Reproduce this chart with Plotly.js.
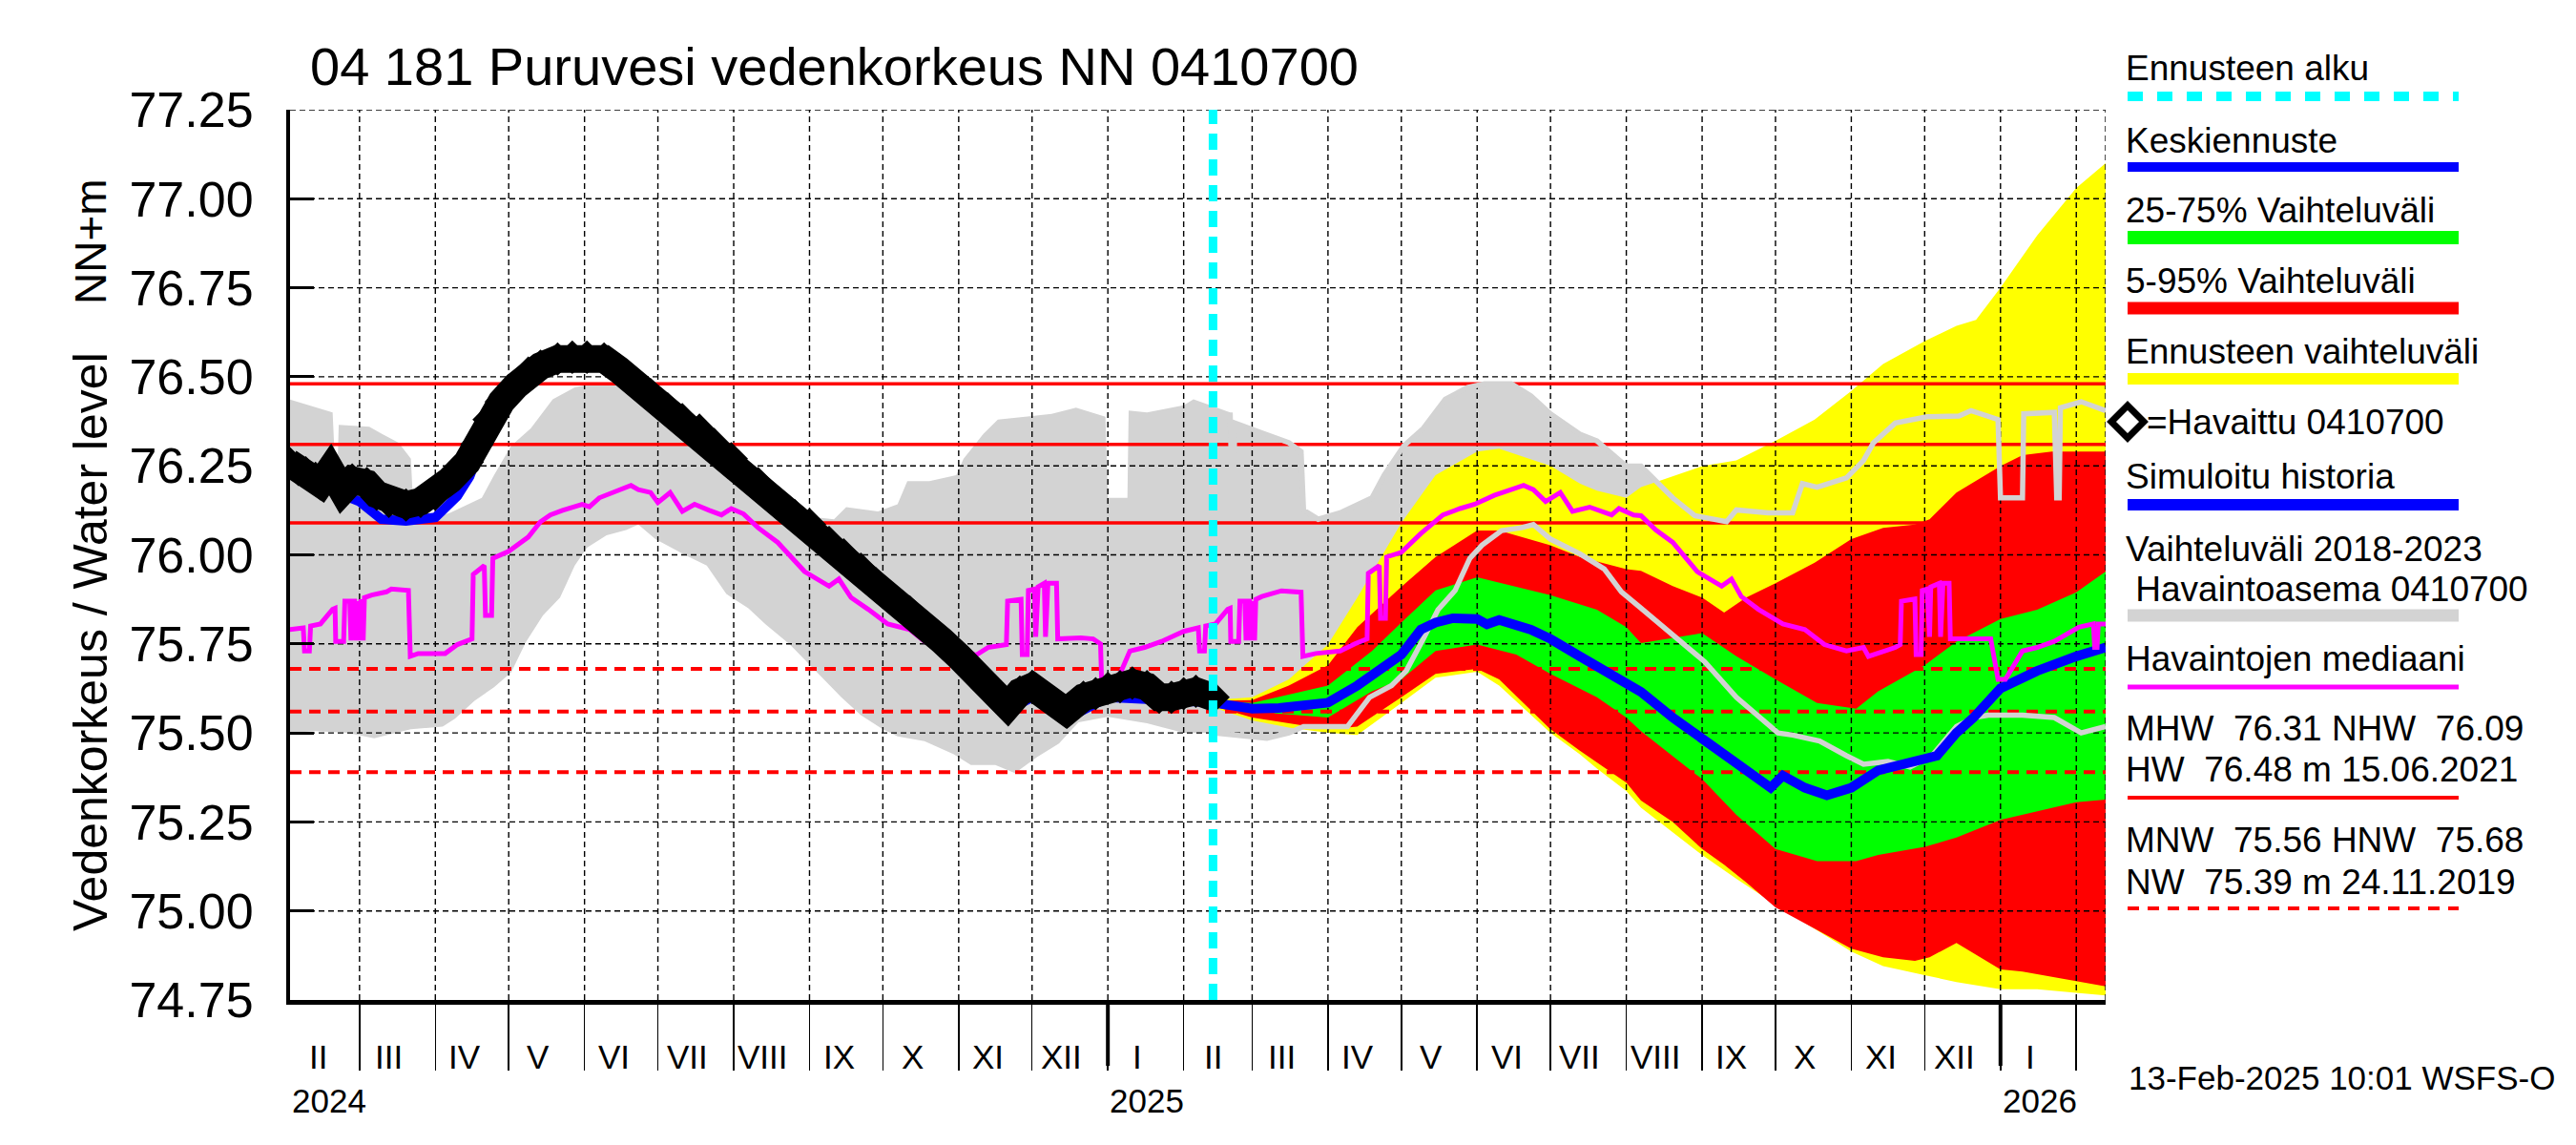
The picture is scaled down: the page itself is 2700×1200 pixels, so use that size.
<!DOCTYPE html>
<html><head><meta charset="utf-8">
<script src="https://cdn.plot.ly/plotly-3.0.1.min.js"></script>
<style>html,body{margin:0;padding:0;background:#fff}#chart{width:2700px;height:1200px}</style>
</head><body><div id="chart"></div>
<script>
// ---------------- DATA ----------------
const titleText = '04 181 Puruvesi vedenkorkeus NN 0410700';
const xRange = ['2024-02-01 14:00', '2026-02-13'];
const yRange = [74.75, 77.25];
const yTicks = [74.75, 75.00, 75.25, 75.50, 75.75, 76.00, 76.25, 76.50, 76.75, 77.00, 77.25];
const monthLabels = ['II','III','IV','V','VI','VII','VIII','IX','X','XI','XII','I',
                     'II','III','IV','V','VI','VII','VIII','IX','X','XI','XII','I'];
const yearStarts = ['2024-01-01','2025-01-01','2026-01-01'];
const yearLabels = ['2024','2025','2026'];
const forecastStart = '2025-02-13';
const stamp = '13-Feb-2025 10:01 WSFS-O';

// reference levels
const MHW = 76.31, NHW = 76.09, HW = 76.48, HWdate = '15.06.2021';
const MNW = 75.56, HNW = 75.68, NW = 75.39, NWdate = '24.11.2019';
const refSolid = [HW, MHW, NHW];
const refDashed = [HNW, MNW, NW];

// observed water level (Havaittu)
const observed = [['2024-02-01',76.26],['2024-02-05',76.24],['2024-02-08',76.23],['2024-02-12',76.215],['2024-02-14',76.20],
['2024-02-18',76.24],['2024-02-23',76.18],['2024-02-27',76.21],['2024-03-04',76.20],['2024-03-08',76.17],['2024-03-13',76.15],
['2024-03-20',76.14],['2024-03-26',76.15],['2024-04-01',76.17],['2024-04-07',76.21],['2024-04-14',76.26],['2024-04-18',76.31],
['2024-04-23',76.38],['2024-04-28',76.43],['2024-05-04',76.475],['2024-05-09',76.51],['2024-05-14',76.53],['2024-05-21',76.55],
['2024-05-27',76.555],['2024-06-02',76.555],['2024-06-09',76.55],['2024-06-15',76.52],['2024-06-22',76.48],['2024-06-28',76.45],
['2024-07-05',76.41],['2024-07-11',76.38],['2024-07-18',76.35],['2024-07-24',76.31],['2024-07-31',76.27],['2024-08-05',76.23],
['2024-08-11',76.20],['2024-08-20',76.14],['2024-08-26',76.11],['2024-09-01',76.085],['2024-09-09',76.035],['2024-09-15',76.00],
['2024-09-22',75.96],['2024-09-28',75.92],['2024-10-01',75.90],['2024-10-06',75.87],['2024-10-12',75.84],['2024-10-18',75.80],
['2024-10-25',75.76],['2024-11-01',75.715],['2024-11-06',75.68],['2024-11-11',75.65],['2024-11-16',75.61],['2024-11-21',75.575],
['2024-11-26',75.615],['2024-12-01',75.63],['2024-12-09',75.59],['2024-12-15',75.56],['2024-12-22',75.60],['2024-12-27',75.61],
['2025-01-01',75.625],['2025-01-06',75.63],['2025-01-11',75.64],['2025-01-17',75.63],['2025-01-22',75.60],['2025-01-27',75.60],
['2025-02-01',75.61],['2025-02-06',75.617],['2025-02-13',75.60]];

// simulated history (Simuloitu historia)
const simulated = [['2024-02-01',76.25],['2024-02-15',76.19],['2024-03-01',76.15],['2024-03-10',76.10],['2024-03-20',76.095],
['2024-04-01',76.105],['2024-04-10',76.165],['2024-04-15',76.22],['2024-04-20',76.31],['2024-05-01',76.44],['2024-05-15',76.52],
['2024-06-01',76.55],['2024-06-15',76.51],['2024-07-01',76.43],['2024-08-01',76.26],['2024-09-01',76.08],['2024-10-01',75.89],
['2024-10-20',75.76],['2024-11-01',75.69],['2024-11-20',75.56],['2024-12-01',75.60],['2024-12-15',75.54],['2025-01-01',75.60],
['2025-02-01',75.59],['2025-02-13',75.585]];

// median forecast (Keskiennuste)
const median = [['2025-02-13',75.585],['2025-03-01',75.568],['2025-03-12',75.57],['2025-03-25',75.576],['2025-04-01',75.585],
['2025-04-13',75.633],['2025-04-26',75.70],['2025-05-01',75.72],['2025-05-09',75.79],['2025-05-15',75.81],['2025-05-22',75.822],
['2025-06-01',75.82],['2025-06-05',75.805],['2025-06-10',75.817],['2025-06-23',75.79],['2025-07-01',75.764],['2025-07-13',75.715],
['2025-07-26',75.666],['2025-08-01',75.64],['2025-08-07',75.615],['2025-08-20',75.543],['2025-09-01',75.486],['2025-09-15',75.42],
['2025-09-29',75.346],['2025-10-04',75.38],['2025-10-13',75.346],['2025-10-22',75.325],['2025-11-01',75.346],['2025-11-12',75.395],
['2025-12-01',75.428],['2025-12-06',75.436],['2025-12-14',75.50],['2025-12-21',75.543],['2026-01-01',75.625],['2026-01-16',75.674],
['2026-02-01',75.715],['2026-02-13',75.74]];

// 25-75 % band
const greenDates = ['2025-02-13','2025-03-01','2025-04-01','2025-04-19','2025-05-01','2025-05-15','2025-06-01','2025-06-17',
'2025-07-01','2025-07-20','2025-08-01','2025-08-07','2025-09-01','2025-09-15','2025-10-01','2025-10-18','2025-11-03','2025-11-12',
'2025-12-01','2025-12-14','2026-01-01','2026-01-16','2026-02-01','2026-02-13'];
const greenUpper = [75.59,75.584,75.633,75.73,75.81,75.90,75.937,75.91,75.887,75.846,75.797,75.752,75.78,75.715,75.65,75.584,
75.568,75.617,75.69,75.756,75.82,75.846,75.895,75.953];
const greenLower = [75.578,75.56,75.543,75.617,75.65,75.73,75.748,75.72,75.666,75.60,75.543,75.505,75.37,75.27,75.174,75.14,
75.14,75.157,75.18,75.206,75.256,75.28,75.305,75.313];

// 5-95 % band
const redDates = ['2025-02-13','2025-03-01','2025-03-16','2025-04-01','2025-04-13','2025-05-01','2025-05-15','2025-06-01',
'2025-06-10','2025-07-01','2025-07-13','2025-08-01','2025-08-07','2025-08-20','2025-09-01','2025-09-10','2025-09-19','2025-10-01',
'2025-10-17','2025-11-01','2025-11-14','2025-11-27','2025-12-03','2025-12-14','2026-01-01','2026-01-10','2026-01-22','2026-02-13'];
const redUpper = [75.59,75.592,75.633,75.69,75.797,75.91,75.994,76.068,76.068,76.027,75.994,75.96,75.955,75.912,75.88,75.838,
75.88,75.92,75.978,76.044,76.076,76.085,76.10,76.175,76.249,76.28,76.29,76.29];
const redLower = [75.575,75.543,75.527,75.51,75.518,75.60,75.666,75.68,75.65,75.51,75.45,75.36,75.31,75.25,75.174,75.13,
75.08,75.01,74.95,74.894,74.87,74.86,74.87,74.91,74.836,74.83,74.815,74.788];

// forecast min-max band
const yellowDates = ['2025-02-13','2025-03-01','2025-03-16','2025-04-01','2025-04-13','2025-05-01','2025-05-15','2025-06-01',
'2025-06-10','2025-07-01','2025-07-13','2025-07-20','2025-08-01','2025-08-07','2025-09-01','2025-09-15','2025-10-01','2025-10-17',
'2025-11-01','2025-11-14','2025-12-01','2025-12-14','2025-12-22','2026-01-01','2026-01-16','2026-02-01','2026-02-13'];
const yellowUpper = [75.592,75.60,75.65,75.748,75.88,76.09,76.224,76.29,76.298,76.25,76.20,76.18,76.16,76.19,76.249,76.265,
76.32,76.38,76.46,76.536,76.60,76.643,76.66,76.75,76.897,77.03,77.10];
const yellowLower = [75.572,75.535,75.515,75.50,75.494,75.584,75.655,75.672,75.633,75.50,75.44,75.40,75.337,75.29,75.157,75.09,
75.018,74.95,74.886,74.845,74.82,74.80,74.79,74.78,74.78,74.77,74.763];

// observed range 2018-2023 (upper / lower edge)
const grayUpper = [['2024-02-01',76.437],['2024-02-19',76.40],['2024-02-20',76.25],['2024-02-21',76.25],['2024-02-21 12:00',76.365],
['2024-03-05',76.36],['2024-03-10',76.34],['2024-03-17',76.315],['2024-03-22',76.27],['2024-03-23',76.13],['2024-03-29',76.10],
['2024-04-07',76.118],['2024-04-20',76.16],['2024-04-25',76.224],['2024-05-02',76.306],['2024-05-10',76.355],['2024-05-19',76.437],
['2024-05-28',76.47],['2024-06-04',76.48],['2024-06-15',76.48],['2024-06-23',76.446],['2024-07-01',76.396],['2024-07-13',76.339],
['2024-07-20',76.32],['2024-08-01',76.249],['2024-08-07',76.249],['2024-08-20',76.16],['2024-08-29',76.11],['2024-09-11',76.10],
['2024-09-16',76.134],['2024-09-29',76.122],['2024-10-07',76.142],['2024-10-11',76.207],['2024-10-20',76.207],['2024-10-31',76.224],
['2024-11-03',76.27],['2024-11-11',76.339],['2024-11-17',76.38],['2024-12-01',76.39],['2024-12-09',76.396],['2024-12-19',76.413],
['2024-12-31',76.388],['2025-01-01',76.16],['2025-01-09',76.16],['2025-01-09 12:00',76.405],['2025-01-17',76.40],['2025-02-01',76.42],
['2025-02-05',76.437],['2025-02-20',76.40],['2025-02-20 12:00',76.25],['2025-02-21 12:00',76.25],['2025-02-22',76.37],
['2025-03-04',76.345],['2025-03-16',76.315],['2025-03-21',76.29],['2025-03-22',76.126],['2025-03-28',76.10],['2025-04-06',76.118],
['2025-04-19',76.16],['2025-04-24',76.224],['2025-05-02',76.306],['2025-05-10',76.355],['2025-05-19',76.437],['2025-05-28',76.47],
['2025-06-04',76.48],['2025-06-15',76.48],['2025-06-23',76.446],['2025-07-01',76.396],['2025-07-13',76.339],['2025-07-20',76.32],
['2025-08-01',76.249],['2025-08-07',76.249],['2025-08-20',76.16],['2025-08-29',76.11],['2025-09-11',76.093],['2025-09-15',76.126],
['2025-09-28',76.118],['2025-10-08',76.118],['2025-10-12',76.20],['2025-10-18',76.19],['2025-10-30',76.216],['2025-11-06',76.265],
['2025-11-10',76.314],['2025-11-19',76.37],['2025-12-02',76.388],['2025-12-15',76.39],['2025-12-20',76.405],['2025-12-31',76.38],
['2026-01-01',76.16],['2026-01-10',76.16],['2026-01-10 12:00',76.396],['2026-01-23',76.40],['2026-01-24',76.16],['2026-01-25',76.16],
['2026-01-25 12:00',76.413],['2026-02-03',76.43],['2026-02-13',76.405]];
const grayLower = [['2024-02-01',75.50],['2024-02-12',75.505],['2024-02-25',75.50],['2024-03-07',75.485],['2024-03-16',75.50],
['2024-03-22',75.51],['2024-04-04',75.518],['2024-04-09',75.54],['2024-04-17',75.59],['2024-04-25',75.628],['2024-05-02',75.67],
['2024-05-08',75.755],['2024-05-15',75.83],['2024-05-22',75.88],['2024-05-28',75.97],['2024-06-02',76.02],['2024-06-10',76.055],
['2024-06-18',76.07],['2024-06-23',76.085],['2024-06-30',76.044],['2024-07-12',76.0],['2024-07-21',75.97],['2024-07-29',75.89],
['2024-08-07',75.85],['2024-08-14',75.805],['2024-08-24',75.748],['2024-09-01',75.69],['2024-09-14',75.60],['2024-09-22',75.55],
['2024-10-01',75.51],['2024-10-07',75.49],['2024-10-18',75.477],['2024-10-30',75.44],['2024-11-06',75.41],['2024-11-16',75.41],
['2024-11-24',75.387],['2024-12-03',75.432],['2024-12-12',75.47],['2024-12-20',75.53],['2025-01-01',75.545],['2025-01-17',75.527],
['2025-02-01',75.50],['2025-02-13',75.50],['2025-03-07',75.485],['2025-03-16',75.50],['2025-03-22',75.518],['2025-04-09',75.518],
['2025-04-11',75.535],['2025-04-18',75.60],['2025-04-27',75.633],['2025-05-03',75.674],['2025-05-10',75.764],['2025-05-16',75.846],
['2025-05-23',75.90],['2025-05-29',75.99],['2025-06-03',76.027],['2025-06-11',76.068],['2025-06-19',76.076],['2025-06-24',76.085],
['2025-07-01',76.044],['2025-07-13',76.003],['2025-07-23',75.96],['2025-07-30',75.896],['2025-08-07',75.85],['2025-08-15',75.805],
['2025-08-25',75.748],['2025-09-02',75.70],['2025-09-15',75.60],['2025-10-02',75.50],['2025-10-08',75.494],['2025-10-19',75.477],
['2025-10-30',75.436],['2025-11-06',75.412],['2025-11-16',75.42],['2025-11-25',75.404],['2025-12-04',75.436],['2025-12-14',75.518],
['2025-12-21',75.543],['2025-12-27',75.55],['2026-01-10',75.55],['2026-01-23',75.543],['2026-02-03',75.50],['2026-02-13',75.518]];

// median of observations (Havaintojen mediaani)
const obsMedian = [['2024-02-01',75.79],['2024-02-07',75.795],['2024-02-07 12:00',75.73],['2024-02-09 12:00',75.73],['2024-02-10',75.80],
['2024-02-14',75.806],['2024-02-19',75.847],['2024-02-20',75.85],['2024-02-20 06:00',75.757],['2024-02-23 12:00',75.757],
['2024-02-24',75.87],['2024-02-26',75.87],['2024-02-26 12:00',75.76],['2024-02-27',75.87],['2024-02-28',75.87],['2024-02-28 12:00',75.76],
['2024-02-29 12:00',75.87],['2024-03-01',75.76],['2024-03-01 12:00',75.875],['2024-03-02 12:00',75.76],['2024-03-03',75.88],
['2024-03-06',75.887],['2024-03-12',75.896],['2024-03-14',75.904],['2024-03-21',75.90],['2024-03-21 18:00',75.715],['2024-03-25',75.723],
['2024-04-05',75.723],['2024-04-10',75.748],['2024-04-16',75.764],['2024-04-16 12:00',75.945],['2024-04-21',75.97],['2024-04-21 12:00',75.83],
['2024-04-24',75.83],['2024-04-24 12:00',75.99],['2024-05-01',76.01],['2024-05-09',76.05],['2024-05-14',76.093],['2024-05-18',76.112],
['2024-05-23',76.125],['2024-05-31',76.142],['2024-06-03',76.135],['2024-06-07',76.16],['2024-06-14',76.18],['2024-06-20',76.195],
['2024-06-23',76.183],['2024-06-28',76.175],['2024-07-01',76.147],['2024-07-06',76.175],['2024-07-11',76.122],['2024-07-16',76.142],
['2024-07-22',76.125],['2024-07-27',76.112],['2024-07-31',76.13],['2024-08-05',76.115],['2024-08-11',76.076],['2024-08-19',76.035],
['2024-08-30',75.953],['2024-09-09',75.912],['2024-09-13',75.932],['2024-09-18',75.88],['2024-09-25',75.847],['2024-10-03',75.806],
['2024-10-12',75.79],['2024-10-18',75.757],['2024-10-24',75.74],['2024-10-31',75.745],['2024-11-08',75.718],['2024-11-13',75.74],
['2024-11-20 12:00',75.748],['2024-11-21',75.87],['2024-11-26 12:00',75.875],['2024-11-27',75.72],['2024-11-29',75.72],
['2024-11-29 12:00',75.90],['2024-12-02',75.904],['2024-12-02 12:00',75.77],['2024-12-03 12:00',75.91],['2024-12-06',75.92],
['2024-12-06 12:00',75.77],['2024-12-07 12:00',75.92],['2024-12-11',75.92],['2024-12-11 12:00',75.764],['2024-12-21',75.767],
['2024-12-26',75.764],['2024-12-29',75.75],['2024-12-29 12:00',75.633],['2025-01-03',75.65],['2025-01-06',75.666],['2025-01-10',75.73],
['2025-01-16',75.74],['2025-01-23',75.757],['2025-02-01',75.785],['2025-02-07',75.795],['2025-02-07 12:00',75.73],['2025-02-09 12:00',75.73],
['2025-02-10',75.80],['2025-02-14',75.806],['2025-02-19',75.847],['2025-02-20',75.85],['2025-02-20 06:00',75.757],['2025-02-23 12:00',75.757],
['2025-02-24',75.87],['2025-02-26',75.87],['2025-02-26 12:00',75.76],['2025-02-27',75.87],['2025-02-28',75.87],['2025-02-28 12:00',75.76],
['2025-03-01',75.87],['2025-03-02',75.76],['2025-03-02 12:00',75.875],['2025-03-05',75.883],['2025-03-13',75.899],['2025-03-21',75.895],
['2025-03-21 18:00',75.715],['2025-03-27',75.723],['2025-04-06',75.73],['2025-04-12',75.75],['2025-04-17',75.764],['2025-04-17 12:00',75.948],
['2025-04-22',75.97],['2025-04-22 12:00',75.822],['2025-04-24 12:00',75.822],['2025-04-25',75.994],['2025-05-01',76.007],['2025-05-09',76.06],
['2025-05-18',76.112],['2025-05-25',76.13],['2025-05-31',76.142],['2025-06-08',76.167],['2025-06-13',76.178],['2025-06-20',76.195],
['2025-06-24',76.183],['2025-06-29',76.15],['2025-07-05',76.175],['2025-07-10',76.122],['2025-07-17',76.134],['2025-07-26',76.112],
['2025-07-29',76.13],['2025-08-04',76.112],['2025-08-07',76.11],['2025-08-13',76.07],['2025-08-20',76.035],['2025-08-30',75.953],
['2025-09-09',75.912],['2025-09-13',75.932],['2025-09-17',75.883],['2025-09-24',75.847],['2025-10-04',75.806],['2025-10-13',75.79],
['2025-10-21',75.748],['2025-10-30',75.73],['2025-11-06',75.74],['2025-11-08',75.715],['2025-11-19',75.74],['2025-11-21',75.748],
['2025-11-21 12:00',75.87],['2025-11-27',75.876],['2025-11-27 12:00',75.72],['2025-11-29 12:00',75.72],['2025-11-30',75.90],
['2025-12-02',75.904],['2025-12-03',75.77],['2025-12-03 12:00',75.91],['2025-12-07',75.92],['2025-12-07 12:00',75.77],
['2025-12-08 12:00',75.92],['2025-12-11',75.92],['2025-12-11 12:00',75.764],['2025-12-28',75.764],['2025-12-31',75.65],
['2026-01-03',75.65],['2026-01-10',75.73],['2026-01-16',75.74],['2026-01-23',75.757],['2026-02-02',75.797],['2026-02-08',75.806],
['2026-02-08 12:00',75.74],['2026-02-09 12:00',75.74],['2026-02-10',75.806],['2026-02-13',75.806]];

// ---------------- HELPERS ----------------
const FONT = 'Liberation Sans, Arial, Helvetica, sans-serif';
const L = 304, T = 115, W = 1903, H = 933;      // plot area in px
const px = x => (x - L) / W;
const py = y => (T + H - y) / H;
const xs = a => a.map(p => p[0]);
const ys = a => a.map(p => p[1]);
const pad = n => (n < 10 ? '0' : '') + n;
const polyX = (d1, d2) => d1.concat(d2.slice().reverse());
const polyY = (u, l) => u.concat(l.slice().reverse());

const monthStarts = [];
for (let k = 2; k <= 25; k++) monthStarts.push((2024 + Math.floor(k / 12)) + '-' + pad(k % 12 + 1) + '-01');
const monthMids = monthLabels.map((_, i) => { const k = i + 1; return (2024 + Math.floor(k / 12)) + '-' + pad(k % 12 + 1) + '-13'; });

const gUp = grayUpper.filter(p => p[0] >= forecastStart);
const gLo = grayLower.filter(p => p[0] >= forecastStart);

// ---------------- TRACES ----------------
const traces = [];
traces.push({x: polyX(xs(grayUpper), xs(grayLower)), y: polyY(ys(grayUpper), ys(grayLower)), fill: 'toself',
  fillcolor: '#d3d3d3', line: {width: 0, color: '#d3d3d3'}, mode: 'lines', hoverinfo: 'skip'});
traces.push({x: polyX(yellowDates, yellowDates), y: polyY(yellowUpper, yellowLower), fill: 'toself',
  fillcolor: '#ffff00', line: {width: 0, color: '#ffff00'}, mode: 'lines', hoverinfo: 'skip'});
traces.push({x: polyX(redDates, redDates), y: polyY(redUpper, redLower), fill: 'toself',
  fillcolor: '#ff0000', line: {width: 0, color: '#ff0000'}, mode: 'lines', hoverinfo: 'skip'});
traces.push({x: polyX(greenDates, greenDates), y: polyY(greenUpper, greenLower), fill: 'toself',
  fillcolor: '#00ff00', line: {width: 0, color: '#00ff00'}, mode: 'lines', hoverinfo: 'skip'});
// grid (dashed) drawn over the bands, under the lines
const grid = {color: '#000', width: 1.4, dash: '6px,4px'};
yTicks.filter(v => v > yRange[0]).forEach(v => traces.push({x: xRange, y: [v, v], mode: 'lines', line: grid, hoverinfo: 'skip', cliponaxis: false}));
monthStarts.concat([xRange[1]]).forEach(d => traces.push({x: [d, d], y: yRange, mode: 'lines', line: grid, hoverinfo: 'skip'}));
refSolid.forEach(v => traces.push({x: xRange, y: [v, v], mode: 'lines', line: {color: '#ff0000', width: 3.5}, hoverinfo: 'skip'}));
refDashed.forEach(v => traces.push({x: xRange, y: [v, v], mode: 'lines', line: {color: '#ff0000', width: 4, dash: '12px,8px'}, hoverinfo: 'skip'}));
traces.push({x: xs(gUp), y: ys(gUp), mode: 'lines', line: {color: '#d3d3d3', width: 5.5}, hoverinfo: 'skip'});
traces.push({x: xs(gLo), y: ys(gLo), mode: 'lines', line: {color: '#d3d3d3', width: 5.5}, hoverinfo: 'skip'});
traces.push({x: xs(median), y: ys(median), mode: 'lines', line: {color: '#0000ff', width: 10}, hoverinfo: 'skip'});
traces.push({x: xs(obsMedian), y: ys(obsMedian), mode: 'lines', line: {color: '#ff00ff', width: 5}, hoverinfo: 'skip'});
traces.push({x: xs(simulated), y: ys(simulated), mode: 'lines', line: {color: '#0000ff', width: 10}, hoverinfo: 'skip'});
traces.push({x: xs(observed), y: ys(observed), mode: 'lines+markers', line: {color: '#000', width: 29},
  marker: {symbol: 'diamond', size: 27, color: '#000'}, hoverinfo: 'skip'});
traces.push({x: [forecastStart, forecastStart], y: yRange, mode: 'lines',
  line: {color: '#00ffff', width: 9, dash: '17px,10px'}, hoverinfo: 'skip'});

// ---------------- SHAPES ----------------
const shapes = [];
yearStarts.filter(d => d > xRange[0]).forEach(d => shapes.push({type: 'line', xref: 'x', x0: d, x1: d, yref: 'paper', y0: 0, y1: -69 / H, line: {color: '#000', width: 4}, layer: 'above'}));

// legend samples
const LX0 = px(2230), LX1 = px(2577);
const legendLines = [[101, '#00ffff', 10, '16px,15px'], [175, '#0000ff', 10], [249, '#00ff00', 14], [323, '#ff0000', 13],
  [397, '#ffff00', 12], [529, '#0000ff', 12], [645, '#d3d3d3', 13], [720, '#ff00ff', 5], [836, '#ff0000', 4], [952, '#ff0000', 4, '12px,9px']];
legendLines.forEach(l => shapes.push({type: 'line', xref: 'paper', yref: 'paper', x0: LX0, x1: LX1, y0: py(l[0]), y1: py(l[0]),
  line: {color: l[1], width: l[2], dash: l[3] || 'solid'}}));
shapes.push({type: 'path', xref: 'paper', yref: 'paper',
  path: `M ${px(2213)},${py(442)} L ${px(2230)},${py(425)} L ${px(2247)},${py(442)} L ${px(2230)},${py(459)} Z`,
  line: {color: '#000', width: 7}, fillcolor: '#fff'});

// ---------------- ANNOTATIONS ----------------
const ann = [];
const A = (text, x, y, size, extra) => Object.assign({text, x, y, xref: 'paper', yref: 'paper', showarrow: false,
  xanchor: 'left', yanchor: 'middle', font: {size, family: FONT, color: '#000'}}, extra || {});
ann.push(A('Vedenkorkeus / Water level', px(95), py(673), 50, {xanchor: 'center', textangle: -90}));
ann.push(A('NN+m', px(95), py(253), 46, {xanchor: 'center', textangle: -90}));
monthLabels.forEach((m, i) => ann.push(A(m, monthMids[i], py(1107), 35, {xref: 'x', xanchor: 'center'})));
yearLabels.forEach((t, i) => ann.push(A(t, yearStarts[i] < xRange[0] ? xRange[0] : yearStarts[i], py(1153), 35, {xref: 'x'})));
ann.push(A(stamp, px(2229), py(1129), 35));
const sp = '\u00a0';
const legendTexts = [['Ennusteen alku', 72], ['Keskiennuste', 147], ['25-75% Vaihteluväli', 220], ['5-95% Vaihteluväli', 294],
  ['Ennusteen vaihteluväli', 368], ['Simuloitu historia', 500], ['Vaihteluväli 2018-2023', 575], [sp + 'Havaintoasema 0410700', 617],
  ['Havaintojen mediaani', 690],
  ['MHW' + sp + sp + MHW.toFixed(2) + ' NHW' + sp + sp + NHW.toFixed(2), 763],
  ['HW' + sp + sp + HW.toFixed(2) + ' m ' + HWdate, 806],
  ['MNW' + sp + sp + MNW.toFixed(2) + ' HNW' + sp + sp + HNW.toFixed(2), 880],
  ['NW' + sp + sp + NW.toFixed(2) + ' m ' + NWdate, 924]];
legendTexts.forEach(t => ann.push(A(t[0], px(2226), py(t[1]), 37)));
ann.push(A('=Havaittu 0410700', px(2248), py(442), 37));

// ---------------- LAYOUT ----------------
const layout = {
  width: 2700, height: 1200,
  margin: {l: L, r: 2700 - L - W, t: T, b: 1200 - T - H, pad: 0},
  paper_bgcolor: '#fff', plot_bgcolor: '#fff', showlegend: false, hovermode: false,
  font: {family: FONT, color: '#000'},
  title: {text: titleText, x: 325 / 2700, xref: 'container', xanchor: 'left', y: 1 - 69 / 1200, yref: 'container',
    yanchor: 'middle', font: {size: 56, family: FONT, color: '#000'}},
  xaxis: {type: 'date', range: xRange, showgrid: false, zeroline: false, showline: true, linecolor: '#000', linewidth: 5,
    ticks: 'outside', tickmode: 'array', tickvals: monthStarts, ticklen: 69, tickwidth: 1.5, tickcolor: '#000',
    showticklabels: false, fixedrange: true},
  yaxis: {range: yRange, showgrid: false, zeroline: false, showline: true, linecolor: '#000', linewidth: 4,
    ticks: 'inside', tickmode: 'array', tickvals: yTicks, ticktext: yTicks.map(v => v.toFixed(2)), ticklen: 25,
    tickwidth: 3, tickcolor: '#000', tickfont: {size: 52, family: FONT, color: '#000'}, ticklabelstandoff: 24, fixedrange: true},
  shapes: shapes, annotations: ann
};
Plotly.newPlot('chart', traces, layout, {displayModeBar: false, staticPlot: true});
</script></body></html>
